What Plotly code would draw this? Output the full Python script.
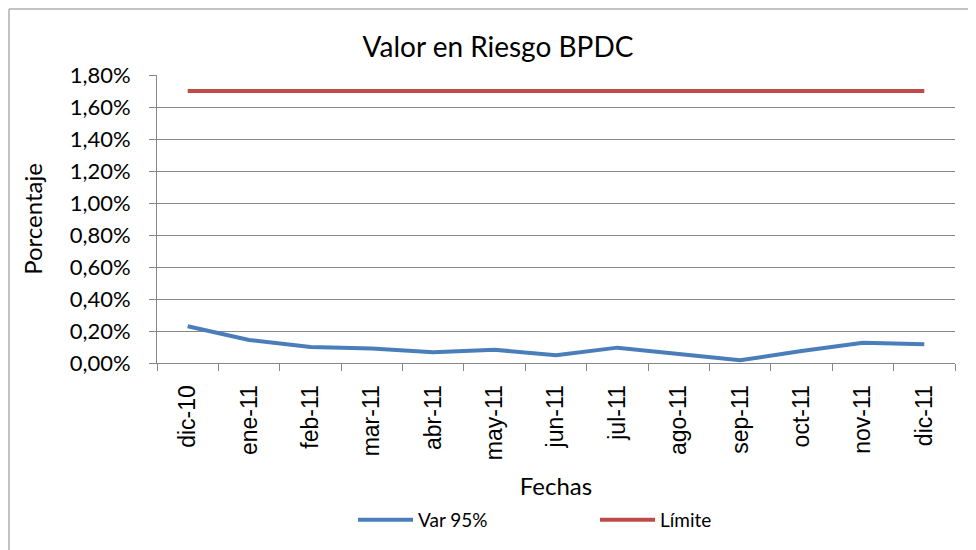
import plotly.graph_objects as go

# Data
fechas = ["dic-10", "ene-11", "feb-11", "mar-11", "abr-11", "may-11", "jun-11",
          "jul-11", "ago-11", "sep-11", "oct-11", "nov-11", "dic-11"]
var_95 = [0.0023, 0.00144, 0.0010, 0.0009, 0.00067, 0.00083, 0.00048,
          0.00096, 0.00056, 0.00017, 0.00075, 0.00127, 0.00117]
limite = [0.017] * len(fechas)

FONT = "Lato, Calibri, sans-serif"
ARIAL = "Liberation Sans, Arial, sans-serif"
GRID = "#878787"

fig = go.Figure()

fig.add_trace(go.Scatter(
    x=fechas, y=var_95, mode="lines", name="Var 95%",
    line=dict(color="#4a7ebb", width=4),
))
fig.add_trace(go.Scatter(
    x=fechas, y=limite, mode="lines", name="Límite",
    line=dict(color="#be4b48", width=4),
))

# page body adds 8px, margins are set so the plot lands where the reference has it
fig.update_layout(
    width=976, height=550,
    margin=dict(l=149, r=29, t=67, b=195),
    paper_bgcolor="white", plot_bgcolor="white",
    separators=",.",
    font=dict(family=FONT, size=17, color="#000000"),
    title=dict(
        text="Valor en Riesgo BPDC",
        font=dict(family=FONT, size=28, color="#000000"),
        x=490 / 976, xanchor="center", xref="container",
        y=1 - 39 / 550, yanchor="middle", yref="container",
    ),
    xaxis=dict(
        type="category",
        range=[-0.5, 12.5],
        showgrid=False,
        showline=True, linecolor=GRID, linewidth=1,
        ticks="outside", tickson="boundaries", ticklen=7, tickcolor=GRID,
        tickangle=-90,
        ticklabelstandoff=12,
        tickfont=dict(family=ARIAL, size=23),
        title=dict(text="Fechas", font=dict(family=FONT, size=24), standoff=18),
    ),
    yaxis=dict(
        range=[0, 0.018],
        dtick=0.002,
        tickformat=".2%",
        showgrid=True, gridcolor=GRID, gridwidth=1,
        zeroline=False,
        showline=True, linecolor=GRID, linewidth=1,
        ticks="outside", ticklen=7, tickcolor=GRID,
        ticklabelstandoff=14,
        tickfont=dict(family=FONT, size=22),
        title=dict(text="Porcentaje", font=dict(family=FONT, size=24), standoff=20),
    ),
    legend=dict(
        orientation="h",
        x=(345 - 149) / 798, xanchor="left",
        y=-0.545, yanchor="middle",
        font=dict(family=FONT, size=19),
        entrywidth=172, entrywidthmode="pixels",
        itemwidth=55,
    ),
    shapes=[dict(
        type="rect", xref="paper", yref="paper",
        x0=(1 - 149) / 798, x1=1.5,
        y0=(355 - 1) / 288, y1=-1.5,
        line=dict(color="#878787", width=1),
    )],
)

fig.write_html("out.html")
